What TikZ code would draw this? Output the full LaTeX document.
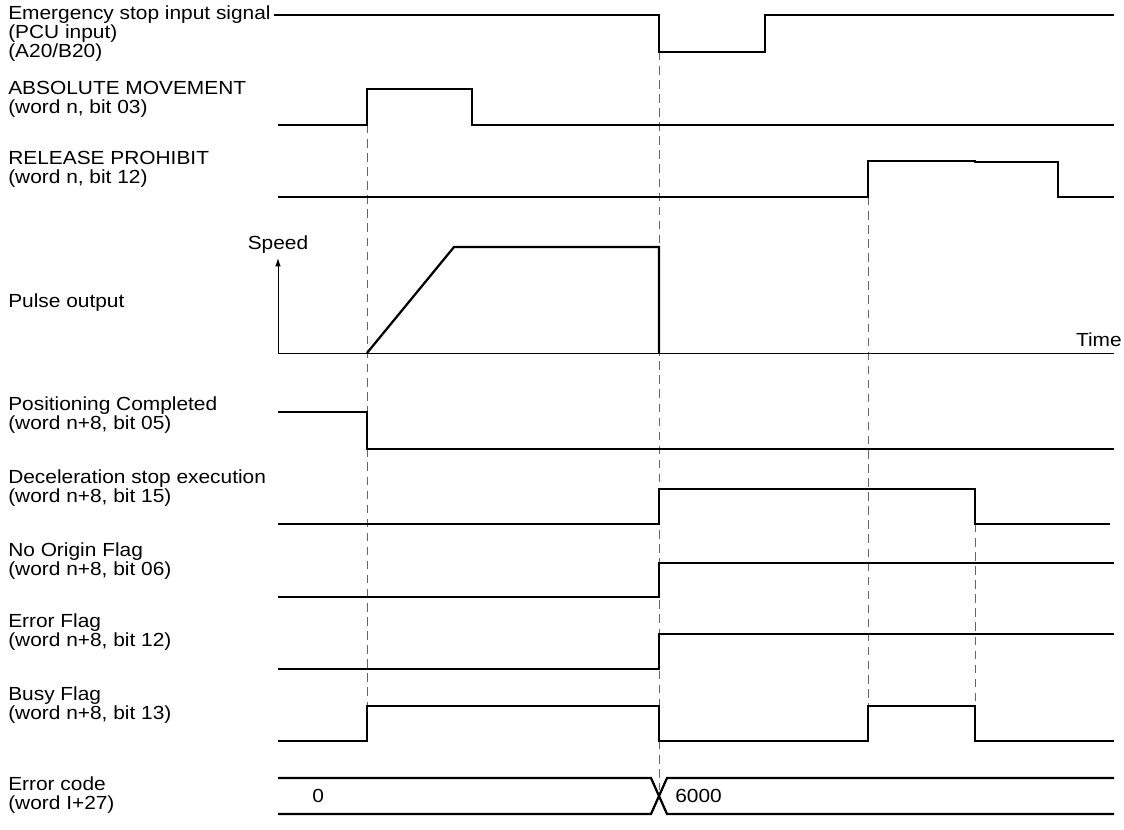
\documentclass[tikz,border=0pt]{standalone}
\usepackage{fontspec}
\setmainfont[FakeStretch=1.1]{Liberation Sans}
\usetikzlibrary{arrows.meta}

\begin{document}
\begin{tikzpicture}[
    x=0.025cm, y=-0.025cm,
    sig/.style={line width=1.6pt, line join=miter},
    axis/.style={line width=0.7pt},
    guide/.style={gray!80!black, line width=0.6pt, dash pattern=on 6pt off 4pt},
    lbl/.style={anchor=west, align=left, inner sep=0pt, font=\fontsize{13.5}{13.5}\selectfont},
    val/.style={anchor=west, inner sep=0pt, font=\fontsize{13.5}{13.5}\selectfont}
]
\useasboundingbox (0,0) rectangle (1124,829);

% guide lines
\draw[guide] (367,125) -- (367,706);
\draw[guide] (659,52) -- (659,790);
\draw[guide] (868,197) -- (868,706);
\draw[guide] (975,524) -- (975,706);

% signal names
\node[lbl] (emg) at (8,34) {Emergency stop input signal\\(PCU input)\\(A20/B20)};
\node[lbl] (abs) at (8,99) {ABSOLUTE MOVEMENT\\(word n, bit 03)};
\node[lbl] (rel) at (8,169) {RELEASE PROHIBIT\\(word n, bit 12)};
\node[lbl] (pls) at (8,303) {Pulse output};
\node[lbl] (pcm) at (8,415) {Positioning Completed\\(word n+8, bit 05)};
\node[lbl] (dec) at (8,488) {Deceleration stop execution\\(word n+8, bit 15)};
\node[lbl] (nof) at (8,561) {No Origin Flag\\(word n+8, bit 06)};
\node[lbl] (erf) at (8,632) {Error Flag\\(word n+8, bit 12)};
\node[lbl] (bsy) at (8,705) {Busy Flag\\(word n+8, bit 13)};
\node[lbl] (erc) at (8,795) {Error code\\(word I+27)};

% waveforms
\draw[sig] (274,15) -- (659,15) -- (659,52) -- (765,52) -- (765,15) -- (1114,15);
\draw[sig] (278,125) -- (367,125) -- (367,89) -- (472,89) -- (472,125) -- (1114,125);
\draw[sig] (278,197) -- (868,197) -- (868,161) -- (975,161) -- (975,162) -- (1058,162) -- (1058,197) -- (1114,197);

% speed profile
\coordinate (org) at (278,353);
\draw[axis, -{Latex[length=6pt, width=4pt]}] (org) -- (278,258) node[val, anchor=south, inner sep=3pt] (spd) {Speed};
\draw[axis] (org) -- (1114,353);
\node[val, anchor=east] (tim) at (1122,340) {Time};
\draw[sig] (367,353) -- (454,247) -- (659,247) -- (659,353);

\draw[sig] (278,412) -- (367,412) -- (367,449) -- (1114,449);
\draw[sig] (278,524) -- (659,524) -- (659,489) -- (975,489) -- (975,524) -- (1110,524);
\draw[sig] (278,597) -- (659,597) -- (659,563) -- (1114,563);
\draw[sig] (278,669) -- (659,669) -- (659,634) -- (1114,634);
\draw[sig] (278,741) -- (367,741) -- (367,706) -- (659,706) -- (659,741) -- (868,741) -- (868,706) -- (975,706) -- (975,741) -- (1114,741);

% error code bus
\draw[sig] (278,778) -- (651,778) -- (667,814) -- (1114,814);
\draw[sig] (278,814) -- (651,814) -- (667,778) -- (1114,778);
\node[val] (c0) at (312,796) {0};
\node[val] (c1) at (675,796) {6000};
\end{tikzpicture}
\end{document}
